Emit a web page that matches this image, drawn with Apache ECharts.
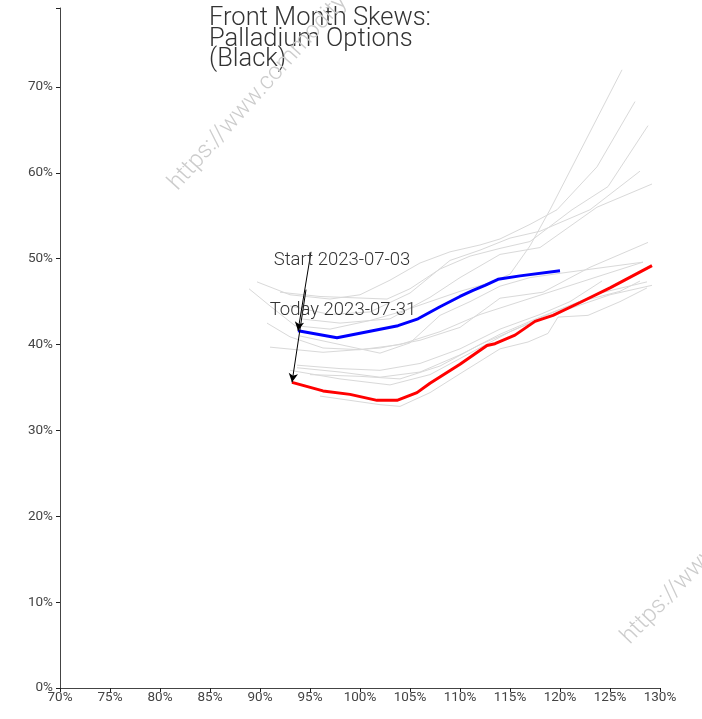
<!DOCTYPE html>
<html>
<head>
<meta charset="utf-8">
<script src="https://cdn.jsdelivr.net/npm/echarts@6/dist/echarts.min.js"></script>
<style>
html,body{margin:0;padding:0;background:#fff;}
#chart{width:702px;height:719px;}
</style>
</head>
<body>
<div id="chart"></div>
<script>
// ---- Data (moneyness %, implied vol %) ----
const titleLines = ['Front Month Skews:', 'Palladium Options', '(Black)'];
const xTicks = [70, 75, 80, 85, 90, 95, 100, 105, 110, 115, 120, 125, 130];
const yTicks = [0, 10, 20, 30, 40, 50, 60, 70];

const startLabel = 'Start 2023-07-03';
const todayLabel = 'Today 2023-07-31';

const startSkew = [[93.8,41.6],[97.7,40.8],[103.8,42.2],[105.8,43.0],[108,44.4],[110,45.6],[111.3,46.3],[112.5,46.9],[113.8,47.6],[116,48.0],[120,48.6]];
const todaySkew = [[93.2,35.6],[96.3,34.6],[99,34.2],[101.7,33.5],[103.7,33.5],[105.7,34.4],[107,35.5],[110,37.7],[112.7,39.9],[113.5,40.1],[115.5,41.1],[117.5,42.7],[119.3,43.4],[122,44.9],[125,46.6],[129.2,49.2]];

const hist1 = [[88.9,46.5],[91,44.5],[93.5,42.2],[97,41.8],[101,42.8],[104,43.8],[107,45.0],[110,46.2],[113,47.2],[115,48.2],[117,51.5],[119,55.7],[126.2,72.0]];
const hist2 = [[89.7,47.3],[93,45.8],[97,45.3],[100,45.8],[103,47.5],[106,49.5],[109,50.8],[112,51.6],[114,52.3],[117,54.0],[119.7,55.7],[123.7,60.7],[127.5,68.3]];
const hist3 = [[92,46.1],[96,45.6],[102.7,45.3],[105,46.5],[108,48.8],[111,50.3],[114,51.2],[117,52.0],[121.2,55.7],[124.8,58.4],[128.8,65.5]];
const hist4 = [[93,44.5],[97,43.5],[101,43.8],[105,46.0],[109,49.8],[112,51.0],[115,52.4],[118,53.2],[123,55.7],[128,60.2]];
const hist5 = [[94,43.0],[98,42.5],[103,43.0],[107,45.5],[110,47.8],[114,50.5],[118,51.3],[123.7,56.0],[129.2,58.7]];
const hist6 = [[91,39.7],[96.3,39.1],[102,39.6],[106,40.5],[110,42.0],[114,45.4],[118.3,46.1],[123,49.0],[128.8,51.9]];
const hist7 = [[90.7,42.5],[93,40.9],[96.3,39.6],[100,39.4],[104,40.0],[108,41.5],[112,43.5],[116,45.0],[120,46.5],[124,48.0],[128.3,49.6]];
const hist8 = [[93.7,37.6],[98,37.2],[102,37.0],[106,37.8],[110,39.5],[114,41.8],[118,43.5],[121,45.0],[124.2,47.4]];
const hist9 = [[93.7,37.3],[98,36.8],[102,36.2],[106,36.8],[110,38.8],[114,41.2],[118,43.2],[122,45.0],[126,46.2],[128,47.4]];
const hist10 = [[95,36.5],[100,36.3],[104,36.0],[108,37.5],[112,40.0],[116,42.0],[120,43.8],[125,45.8],[129.2,46.9]];
const hist11 = [[96,34.0],[102,33.0],[104,32.8],[107,34.4],[110,36.6],[114,39.5],[116.8,40.3],[118.8,41.3],[119.8,43.2],[122.8,43.4],[126,45.0],[128.7,46.6]];
const hist12 = [[93,37.0],[98,36.0],[103,35.3],[107,36.5],[111,39.0],[115,41.5],[119,43.6],[124,46.0],[128.7,47.3]];
const hist13 = [[94,41.0],[98,40.0],[102,39.0],[105,40.2],[108,43.4],[111,45.0],[114,46.8],[117,47.8],[120,48.3],[128.3,49.6]];
const historyCurves = [hist1,hist2,hist3,hist4,hist5,hist6,hist7,hist8,hist9,hist10,hist11,hist12,hist13];

// annotation arrow tails and text anchors (data units)
const startArrowTail = [95.1, 50.8];
const todayArrowTail = [94.6, 46.4];
const startTextPos = [98.2, 49.8];
const todayTextPos = [98.3, 44.0];

// ---- Chart ----
const chart = echarts.init(document.getElementById('chart'), null, {renderer: 'canvas'});
const FONT = 'Roboto';

const series = historyCurves.map(c => ({
  type: 'line', data: c, showSymbol: false, silent: true, z: 1,
  lineStyle: {color: '#d9d9d9', width: 1}
}));

series.push({
  type: 'line', data: startSkew, showSymbol: false, silent: true, z: 3,
  lineStyle: {color: '#0000ff', width: 3}
});
series.push({
  type: 'line', data: todaySkew, showSymbol: false, silent: true, z: 3,
  lineStyle: {color: '#ff0000', width: 3},
  markLine: {
    silent: true, symbol: ['none', 'arrow'], symbolSize: [7, 9],
    label: {show: false},
    lineStyle: {color: '#000', width: 1, type: 'solid'},
    data: [
      [{coord: startArrowTail}, {coord: startSkew[0]}],
      [{coord: todayArrowTail}, {coord: todaySkew[0]}]
    ]
  },
  markPoint: {
    silent: true, symbol: 'circle', symbolSize: 0,
    label: {show: true, position: 'inside', fontFamily: FONT, fontSize: 18.5, fontWeight: 300, color: '#333'},
    data: [
      {coord: startTextPos, value: startLabel, label: {formatter: startLabel}},
      {coord: todayTextPos, value: todayLabel, label: {formatter: todayLabel}}
    ]
  }
});

const option = {
  animation: false,
  backgroundColor: '#fff',
  grid: {left: 60, right: 42, top: 8, bottom: 31, containLabel: false},
  xAxis: {
    type: 'value', min: 70, max: 130, interval: 5,
    axisLine: {show: true, lineStyle: {color: '#444', width: 1}},
    axisTick: {show: true, length: 4, lineStyle: {color: '#222'}},
    splitLine: {show: false},
    axisLabel: {fontFamily: FONT, fontSize: 13.5, color: '#444', margin: 3,
      formatter: v => xTicks.includes(v) ? v + '%' : ''}
  },
  yAxis: {
    type: 'value', min: 0, max: 79.2, interval: 10,
    axisLine: {show: true, lineStyle: {color: '#444', width: 1}},
    axisTick: {show: true, length: 4, lineStyle: {color: '#222'}},
    splitLine: {show: false},
    axisLabel: {fontFamily: FONT, fontSize: 13.5, color: '#444', margin: 7,
      formatter: v => yTicks.includes(v) ? v + '%' : ''}
  },
  graphic: [
    {type: 'text', left: 209, top: 6, z: 0, silent: true,
      style: {text: titleLines.join('\n'), fontFamily: FONT, fontSize: 25.5, fontWeight: 300, lineHeight: 20.5, fill: '#333'}},
    {type: 'text', x: 182, y: 195, rotation: 48 * Math.PI / 180, z: 0, silent: true,
      style: {text: 'https://www.commodity', fontFamily: FONT, fontSize: 24, fontWeight: 300, fill: '#cccccc', align: 'left', verticalAlign: 'bottom'}},
    {type: 'text', x: 634, y: 649, rotation: 46 * Math.PI / 180, z: 0, silent: true,
      style: {text: 'https://www.commodity', fontFamily: FONT, fontSize: 24, fontWeight: 300, fill: '#cccccc', align: 'left', verticalAlign: 'bottom'}}
  ],
  series: series
};
chart.setOption(option);
</script>
</body>
</html>
